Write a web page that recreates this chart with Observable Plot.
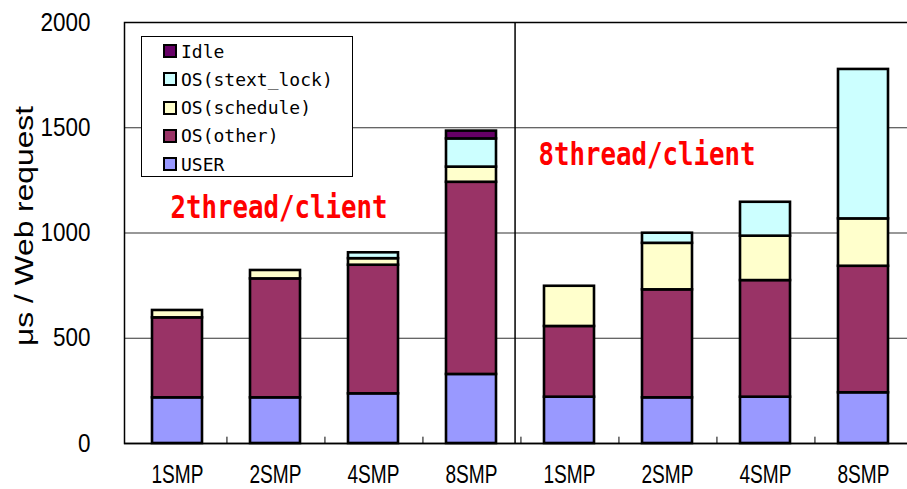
<!DOCTYPE html>
<html>
<head>
<meta charset="utf-8">
<script src="https://cdn.jsdelivr.net/npm/d3@7"></script>
<script src="https://cdn.jsdelivr.net/npm/@observablehq/plot@0.6"></script>
<style>
  body { margin: 0; background: #fff; }
  #wrap { position: relative; width: 907px; height: 489px; overflow: hidden; }
  #legend {
    position: absolute; left: 141px; top: 36px; width: 212px; height: 141px;
    box-sizing: border-box; border: 1px solid #000; background: #fff;
    font-family: "DejaVu Sans Mono", monospace; font-size: 18px; color: #000;
  }
  #legend .row { position: absolute; left: 21px; height: 22px; display: flex; align-items: center; white-space: pre; }
  #legend .sw { width: 10px; height: 10px; border: 2px solid #000; margin-right: 4px; }
</style>
</head>
<body>
<div id="wrap"><div id="chart"></div><div id="legend"></div></div>
<script>
// Thread configurations and processor counts
const groups = ["2thread/client", "8thread/client"];
const smp = ["1SMP", "2SMP", "4SMP", "8SMP"];

// Stacked components, bottom to top
const series = ["USER", "OS(other)", "OS(schedule)", "OS(stext_lock)", "Idle"];
const colors = ["#9999ff", "#993366", "#ffffcc", "#ccffff", "#660066"];

// μs per Web request, one value per bar (2thread 1..8SMP, then 8thread 1..8SMP)
const user       = [217, 217, 236, 328, 220, 217, 220, 241];
const osOther    = [380, 565, 611, 913, 336, 513, 554, 601];
const osSchedule = [ 35,  40,  31,  72, 191, 221, 211, 225];
const osStext    = [  0,   0,  28, 134,   0,  48, 161, 710];
const idle       = [  0,   0,   0,  37,   0,   0,   0,   0];

const yTicks = [0, 500, 1000, 1500, 2000];
const yLabel = "μs / Web request";

const keys = groups.flatMap(g => smp.map(s => g + "|" + s));
const valuesBySeries = [user, osOther, osSchedule, osStext, idle];
const rows = [];
series.forEach((name, si) => {
  valuesBySeries[si].forEach((v, bi) => {
    if (v > 0) rows.push({key: keys[bi], series: name, value: v});
  });
});

const W = 907, H = 489;
const mL = 124, mR = -8;
const step = (W - mR - mL) / keys.length;
const redText = {textAnchor: "start", fill: "#ff0000", fontWeight: "bold", fontSize: 32, fontFamily: "'DejaVu Sans Mono', monospace"};

const chart = Plot.plot({
  width: W,
  height: H,
  marginLeft: mL,
  marginRight: mR,
  marginTop: 22,
  marginBottom: 46,
  style: {fontFamily: "'Liberation Sans', Arial, sans-serif", fontSize: "25px", color: "#000", background: "#fff", overflow: "hidden"},
  x: {domain: keys, paddingInner: 0.49, paddingOuter: 0.245, tickSize: 0, tickPadding: 22, tickFormat: d => d.split("|")[1], label: null},
  y: {domain: [0, 2000], ticks: yTicks, tickSize: 0, tickPadding: 34, tickFormat: d => String(d), label: null},
  color: {domain: series, range: colors},
  marks: [
    Plot.ruleY(yTicks.filter(t => t > 0), {stroke: "#333", strokeWidth: 1.1}),
    Plot.ruleX([keys[4]], {x: d => d, dx: -step / 2 - 5, stroke: "#000", strokeWidth: 1.5}),
    Plot.barY(rows, {x: "key", y: "value", fill: "series", stroke: "#000", strokeWidth: 2.6}),
    Plot.ruleX(keys.slice(0, 7), {x: d => d, dx: step / 2, y1: 0, y2: 30, stroke: "#000", strokeWidth: 1}),
    Plot.ruleY([0], {stroke: "#000", strokeWidth: 1.6}),
    Plot.frame({stroke: "#000", strokeWidth: 1.5}),
    Plot.text([yLabel], {text: d => d, frameAnchor: "left", textAnchor: "middle", lineAnchor: "middle", rotate: -90, dx: -100, dy: -7, fontSize: 26}),
    Plot.text([{key: keys[0], label: groups[0]}], {x: "key", y: () => 1121, text: "label", dx: -7, ...redText}),
    Plot.text([{key: keys[4], label: groups[1]}], {x: "key", y: () => 1373, text: "label", dx: -31, ...redText})
  ]
});

document.getElementById("chart").appendChild(chart);
const svg = d3.select(chart.tagName.toLowerCase() === "svg" ? chart : chart.querySelector("svg"));

// Narrow the axis lettering
svg.selectAll('[aria-label^="x-axis"] text')
  .attr("textLength", 52)
  .attr("lengthAdjust", "spacingAndGlyphs");
svg.selectAll('[aria-label^="y-axis"] text').each(function () {
  const t = d3.select(this);
  t.attr("textLength", 12.5 * t.text().length).attr("lengthAdjust", "spacingAndGlyphs");
});
svg.selectAll("text").filter(function () { return d3.select(this).text() === yLabel; })
  .attr("textLength", 240)
  .attr("lengthAdjust", "spacingAndGlyphs");
svg.selectAll("text").filter(function () { return groups.includes(d3.select(this).text()); })
  .attr("textLength", 217)
  .attr("lengthAdjust", "spacingAndGlyphs");

// Legend, topmost series first
const legend = d3.select("#legend");
series.slice().reverse().forEach((name, i) => {
  const row = legend.append("div").attr("class", "row").style("top", (3 + i * 28.3) + "px");
  row.append("div").attr("class", "sw").style("background", colors[series.indexOf(name)]);
  row.append("span").text(name);
});
</script>
</body>
</html>
